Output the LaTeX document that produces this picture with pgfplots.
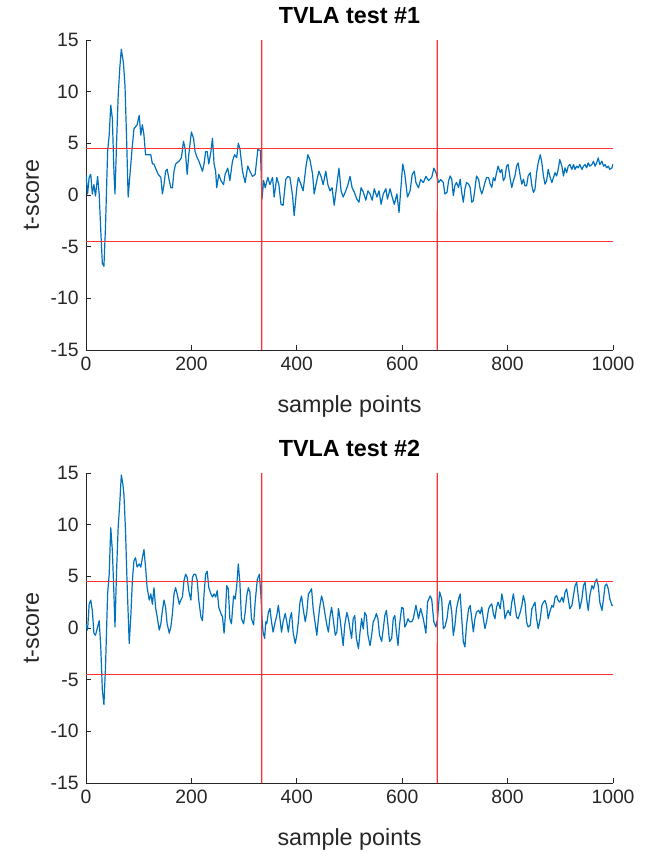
\documentclass[border=0pt]{standalone}
\usepackage{fontspec}
\setmainfont{Liberation Sans}
\usepackage{pgfplots}
\pgfplotsset{compat=1.18}
\definecolor{mblue}{rgb}{0,0.447,0.741}
\definecolor{maxis}{rgb}{0.15,0.15,0.15}
\definecolor{mred}{rgb}{1,0.2,0.2}
\pgfplotsset{
 mstyle/.style={
  scale only axis, width=395.25pt, height=232.5pt,
  xmin=0, xmax=1000, ymin=-15, ymax=15,
  xtick={0,200,400,600,800,1000}, ytick={-15,-10,-5,0,5,10,15},
  axis lines=left, axis line style={-, draw=maxis, line width=0.6pt},
  tick align=inside, major tick length=4pt, tick style={draw=maxis, line width=0.6pt},
  /pgf/number format/assume math mode=true,
  /pgf/number format/1000 sep={},
  tick label style={font=\fontsize{14.5}{17}\selectfont, text=maxis},
  yticklabel style={xshift=-2pt},
  xticklabel style={yshift=-1.5pt},
  xlabel={sample points}, ylabel={t-score},
  label style={font=\fontsize{17.5}{21}\selectfont, text=maxis},
  xlabel style={at={(axis description cs:0.5,-0.2)}, anchor=base},
  ylabel style={at={(axis description cs:-0.0892,0.5)}, anchor=base},
  title style={at={(axis description cs:0.5,1.0548)}, anchor=base, yshift=-6pt, font=\bfseries\fontsize{17.5}{21}\selectfont, text=black},
 },
 redline/.style={color=mred, line width=0.9pt},
}
\begin{document}
\begin{tikzpicture}
\useasboundingbox (0,0) rectangle (488.25pt,-639.75pt);
\begin{axis}[mstyle, at={(64.5pt,-30pt)}, anchor=north west, title={TVLA test \#1}]
\addplot[mblue, line width=0.9pt, line join=round] table {
x y
0 2.0
3 0.1
6 1.7
9 2.0
12 0.1
15 1.0
18 -0.1
22 1.8
25 0.1
28 -3.4
31 -6.6
34 -6.9
37 -3.1
41 4.2
44 5.8
47 8.7
50 7.4
53 2.3
55 0.1
58 5.0
61 9.5
64 12.2
67 14.1
71 12.8
74 10.6
77 5.5
80 -0.2
83 1.7
87 4.2
91 6.4
97 6.8
101 7.7
104 5.8
107 6.8
110 5.8
113 3.9
116 3.9
123 3.9
126 3.0
129 3.0
132 2.6
137 2.0
142 1.7
145 0.1
148 1.0
151 2.3
154 2.5
158 1.4
161 0.7
164 0.7
167 2.3
170 3.0
177 3.3
181 3.6
185 5.2
188 4.5
192 2.0
195 3.9
200 6.1
204 5.5
207 4.2
211 3.6
214 3.3
221 2.3
224 3.0
227 4.2
230 4.2
233 3.0
237 4.2
240 5.5
243 3.0
246 2.3
248 0.7
252 2.0
256 1.4
261 1.0
264 2.0
269 2.6
273 1.4
278 3.3
282 3.9
286 3.6
289 5.0
292 4.5
297 2.3
302 1.2
307 2.8
311 2.3
316 1.8
321 2.0
326 4.4
331 4.3
334 -0.4
337 1.4
340 0.7
345 1.7
349 1.0
354 1.7
357 -0.2
362 1.7
366 1.0
370 -0.9
374 -1.0
379 1.5
383 1.8
387 1.7
392 -0.1
395 -2.0
400 0.7
403 1.7
408 1.0
412 0.4
417 2.6
421 3.9
425 3.4
430 2.0
433 0.1
438 1.4
442 2.3
446 1.8
450 1.0
455 2.3
459 1.0
463 0.4
467 0.7
471 -1.0
476 1.0
480 2.6
484 0.4
488 -0.2
493 0.4
497 1.0
501 1.8
505 0.7
509 0.3
514 -0.4
518 -0.7
522 0.7
526 0.3
531 -0.5
535 0.4
539 0.1
543 -0.5
547 0.6
552 -0.2
556 0.4
560 -0.9
564 0.1
569 0.6
572 -0.4
577 0.6
581 -0.2
585 -0.9
590 0.1
594 -1.7
598 1.0
601 3.0
605 2.0
610 -0.2
615 0.4
619 2.0
623 2.3
626 1.2
631 0.7
635 1.5
640 1.2
645 1.8
650 1.4
656 1.7
660 2.6
664 2.2
669 1.2
673 1.5
678 1.21
681 0.10
685 0.25
688 1.37
691 1.84
694 1.52
697 -0.06
700 0.89
703 1.21
707 0.73
710 1.52
713 0.25
716 -0.70
719 0.57
722 1.21
726 1.05
729 0.73
732 -0.70
735 -0.54
738 0.57
741 1.84
745 1.52
748 0.57
751 0.10
754 0.57
757 1.21
760 1.68
764 1.68
767 1.05
770 0.73
773 1.68
776 1.37
779 2.16
782 2.79
786 2.16
789 2.48
792 1.37
795 1.68
798 2.79
801 2.95
805 1.52
808 0.73
811 1.37
814 1.84
817 2.79
820 3.11
824 1.84
827 1.05
830 1.52
833 0.89
836 0.89
839 1.84
843 2.16
846 0.89
849 0.25
852 0.57
855 2.16
858 3.11
862 3.90
865 3.11
868 1.84
871 1.05
874 1.37
877 2.48
880 1.84
884 1.21
887 1.68
890 2.16
893 1.84
896 2.48
899 3.43
903 2.79
906 1.84
909 2.63
912 2.16
915 2.79
918 2.95
922 2.48
925 2.95
928 2.48
931 2.79
934 2.63
937 2.95
941 2.48
944 2.79
947 2.95
950 2.63
953 3.11
956 2.79
960 2.95
963 3.27
966 2.79
969 3.11
972 3.59
975 2.95
979 3.27
982 2.79
985 2.95
988 2.63
991 2.79
994 2.48
998 2.63
1000 3.0
};
\addplot[redline] coordinates {(333.3,-15) (333.4,0) (333.3,15)};
\addplot[redline] coordinates {(666.6,-15) (666.7,0) (666.6,15)};
\addplot[redline] coordinates {(0,4.5) (1000,4.5)};
\addplot[redline] coordinates {(0,-4.5) (1000,-4.5)};
\end{axis}
\begin{axis}[mstyle, at={(64.5pt,-354.75pt)}, anchor=north west, title={TVLA test \#2}]
\addplot[mblue, line width=0.9pt, line join=round] table {
x y
0 0.4
3 -0.2
6 2.3
9 2.7
12 1.7
15 -0.5
18 -0.7
22 0.1
25 0.7
28 -1.8
31 -6.0
34 -7.4
37 -3.8
41 3.3
44 5.2
47 9.7
50 7.5
53 3.3
55 0.1
58 5.5
61 9.7
64 12.0
67 14.8
70 13.9
72 12.9
75 9.4
78 4.3
82 -1.5
85 1.1
88 4.6
91 6.5
94 6.8
97 5.9
101 6.2
104 5.9
107 6.8
110 7.6
113 5.9
116 3.9
120 2.7
123 3.3
126 2.3
129 3.9
132 2.0
135 1.1
139 -0.2
142 0.4
145 1.7
148 2.7
151 2.0
154 0.4
158 -0.5
161 0.1
164 1.4
167 3.3
170 3.9
173 3.3
177 2.3
180 2.7
183 3.0
186 4.6
189 5.2
192 4.9
195 3.6
199 2.7
202 4.9
205 5.2
208 5.2
211 4.6
214 2.7
218 1.1
221 0.7
224 3.3
227 5.2
230 5.5
233 3.9
237 3.3
240 3.0
243 3.3
246 3.0
249 3.6
252 2.0
256 1.4
259 1.1
262 -0.5
264 0.9
267 4.1
270 3.8
273 0.9
276 0.4
280 3.1
283 2.8
286 4.1
289 6.2
292 4.4
295 0.9
299 0.4
302 1.5
305 3.1
308 3.9
311 3.5
314 0.9
318 0.3
321 2.5
325 4.7
329 5.2
332 3.1
334 0.9
336 -0.4
339 -1.0
341 0.6
343 0.4
346 1.5
349 1.9
352 0.6
355 -0.4
359 0.6
362 1.2
365 2.2
368 0.9
371 -0.4
374 0.6
378 1.4
381 0.6
384 -0.4
387 0.9
390 1.5
393 -0.4
397 -1.5
400 -0.7
403 0.6
406 2.5
409 3.1
412 1.9
416 0.6
419 1.5
422 3.3
425 3.5
428 3.8
431 1.9
435 0.4
438 -0.7
441 0.9
444 2.2
447 3.1
450 2.5
454 1.2
457 0.3
460 -0.4
463 1.1
466 2.0
469 0.9
473 -0.7
476 -0.4
479 1.9
482 0.9
485 -0.4
488 -1.7
491 0.3
495 1.5
498 0.9
501 -0.1
504 -1.0
507 0.9
510 1.2
513 -1.0
517 -2.0
520 -0.4
523 0.9
526 -0.1
529 1.5
532 1.2
535 -0.7
539 -1.7
542 -0.7
545 0.6
548 0.9
551 1.4
554 0.9
557 -0.7
561 -1.3
564 -0.1
567 1.2
570 1.7
573 0.3
576 -1.3
580 -1.0
583 0.9
586 1.2
589 -0.4
592 -1.7
595 0.3
599 2.0
602 1.9
605 0.1
608 0.4
611 0.9
614 0.6
618 0.6
621 0.9
626 2.2
631 0.9
635 1.9
640 0.9
645 -0.5
648 2.5
653 3.1
656 2.8
660 0.6
664 0.1
667 0.9
671 3.5
675 2.8
678 -0.06
681 0.10
685 0.90
688 2.18
691 2.66
694 1.54
697 -0.71
700 0.26
703 1.86
707 2.82
710 3.30
713 0.90
716 -1.35
719 -1.83
722 0.26
726 1.86
729 2.18
732 0.90
735 -0.38
738 0.90
741 1.54
745 1.70
748 1.38
751 2.02
754 0.90
757 -0.06
760 0.58
764 1.86
767 2.18
770 2.34
773 1.38
776 0.90
779 2.02
782 2.50
786 1.86
789 3.30
792 2.50
795 0.90
798 1.38
801 1.70
805 1.22
808 2.50
811 3.30
814 2.18
817 1.06
820 0.90
824 1.54
827 2.18
830 3.14
833 2.50
836 0.58
839 0.10
843 0.26
846 1.86
849 2.18
852 2.50
855 0.90
858 -0.06
862 0.90
865 2.18
868 2.50
871 2.66
874 2.18
877 0.90
880 1.54
884 2.18
887 2.02
890 2.98
893 3.14
896 2.66
899 2.50
903 2.98
906 2.50
909 3.46
912 3.78
915 2.82
918 1.86
922 2.18
925 3.14
928 4.10
931 4.42
934 3.14
937 1.86
941 2.82
944 4.10
947 4.42
950 2.82
953 1.70
956 3.14
960 4.10
963 3.78
966 4.42
969 4.74
972 4.10
975 2.50
979 1.70
982 2.82
985 4.10
988 4.26
991 3.78
994 2.82
998 2.18
1000 2.2
};
\addplot[redline] coordinates {(333.3,-15) (333.4,0) (333.3,15)};
\addplot[redline] coordinates {(666.6,-15) (666.7,0) (666.6,15)};
\addplot[redline] coordinates {(0,4.5) (1000,4.5)};
\addplot[redline] coordinates {(0,-4.5) (1000,-4.5)};
\end{axis}
\end{tikzpicture}
\end{document}
